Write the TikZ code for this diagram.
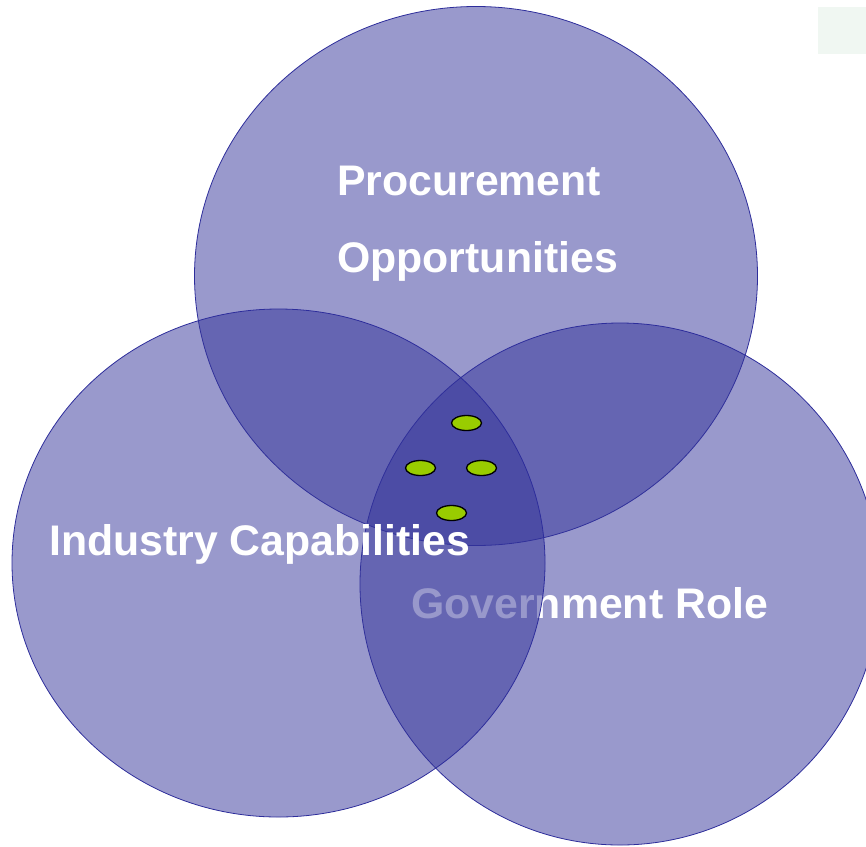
\documentclass[tikz,border=0pt]{standalone}
\usepackage{fontspec}
\setmainfont{Liberation Sans}
\definecolor{venn}{RGB}{51,51,153}
\definecolor{vennline}{RGB}{45,45,155}
\definecolor{dotgreen}{RGB}{153,204,0}
\definecolor{boxgreen}{RGB}{240,247,242}
\begin{document}
\begin{tikzpicture}[x=1pt,y=-1pt,
  vennset/.style={fill=venn,fill opacity=0.5,draw=vennline,line width=0.8pt},
  vlabel/.style={anchor=base west,inner sep=0pt,text=white,font=\fontsize{42.8}{50}\selectfont\bfseries},
  greendot/.style={fill=dotgreen,draw=black,line width=1.3pt}]
\useasboundingbox (0,0) rectangle (866,846);
\clip (0,0) rectangle (866,846);
\node[fill=boxgreen,minimum width=48pt,minimum height=47pt,inner sep=0pt] (box) at (842,30) {};
\path[vennset] (476,276) ellipse [x radius=281.5,y radius=269.5];
\path[vennset] (620,584) ellipse [x radius=260,y radius=261];
\node[vlabel] (gov) at (411,618) {Government Role};
\path[vennset] (278.5,563) ellipse [x radius=266.5,y radius=254];
\node[vlabel] (ind) at (49,555) {Industry Capabilities};
\node[vlabel] (proc) at (337,195) {Procurement};
\node[vlabel] (opp) at (337,272) {Opportunities};
\path[greendot] (466.5,423) ellipse [x radius=15,y radius=7.5];
\path[greendot] (420.5,468) ellipse [x radius=15,y radius=7.5];
\path[greendot] (481.5,468) ellipse [x radius=15,y radius=7.5];
\path[greendot] (451.5,513) ellipse [x radius=15,y radius=7.5];
\end{tikzpicture}
\end{document}
